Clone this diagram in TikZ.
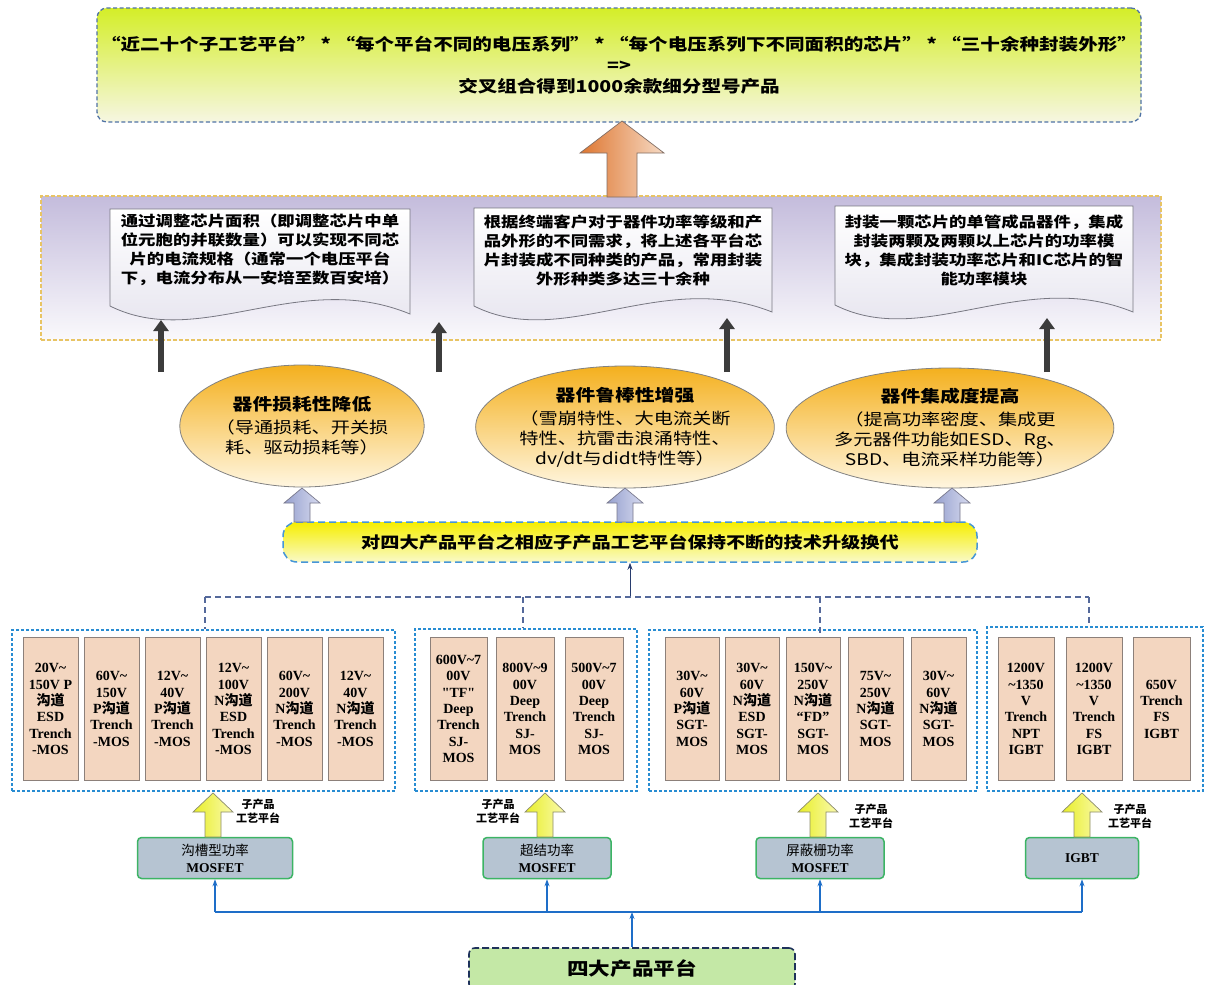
\documentclass[tikz,border=0pt]{standalone}
\usepackage{fontspec}
\setmainfont{Liberation Serif}
\newfontfamily\plainserif{Liberation Serif}
\newfontfamily\cjk{Noto Sans CJK SC}
\newfontfamily\cjkw{Noto Sans CJK SC}[FakeStretch=1.2]
\usetikzlibrary{shapes.geometric,arrows.meta}
\definecolor{topA}{RGB}{212,238,40}
\definecolor{topB}{RGB}{246,246,226}
\definecolor{topline}{RGB}{80,115,165}
\definecolor{bandA}{RGB}{196,188,220}
\definecolor{bandB}{RGB}{250,249,252}
\definecolor{bandline}{RGB}{232,196,100}
\definecolor{docB}{RGB}{226,224,236}
\definecolor{docline}{RGB}{120,120,130}
\definecolor{ellA}{RGB}{244,176,30}
\definecolor{ellB}{RGB}{255,246,224}
\definecolor{barA}{RGB}{246,238,0}
\definecolor{barB}{RGB}{250,250,200}
\definecolor{barline}{RGB}{70,150,215}
\definecolor{lavA}{RGB}{150,160,205}
\definecolor{lavB}{RGB}{214,218,240}
\definecolor{orA}{RGB}{222,118,48}
\definecolor{orB}{RGB}{246,218,196}
\definecolor{treec}{RGB}{85,105,155}
\definecolor{grpc}{RGB}{40,140,210}
\definecolor{tanf}{RGB}{243,214,192}
\definecolor{tanline}{RGB}{140,128,122}
\definecolor{yelA}{RGB}{232,238,40}
\definecolor{yelB}{RGB}{250,250,175}
\definecolor{platf}{RGB}{182,196,210}
\definecolor{platl}{RGB}{60,180,100}
\definecolor{bluec}{RGB}{30,110,200}
\definecolor{basef}{RGB}{196,232,166}
\definecolor{basel}{RGB}{30,50,90}
\definecolor{darkar}{RGB}{60,60,60}
\definecolor{navyc}{RGB}{40,60,110}
\newcommand\blockup[7]{\path[#1] (#2,#3) -- ({#2+#6},#4) -- ({#2+#7},#4) -- ({#2+#7},#5) -- ({#2-#7},#5) -- ({#2-#7},#4) -- ({#2-#6},#4) -- cycle;}
\newcommand\docpath[6]{\path[#1] (#2,#4) -- (#3,#4) -- (#3,#6) .. controls ({#2+0.63*(#3-#2)},{#5-38}) and ({#2+0.3*(#3-#2)},{#5+45}) .. (#2,#5) -- cycle;}
\newcommand\prodbox[4]{\node[prod,minimum width=#2pt] (#1) at (#3,709) {#4};}
\begin{document}
\begin{tikzpicture}[x=1pt,y=-1pt,
  topbox/.style={draw=topline, dash pattern=on 4pt off 2.5pt, line width=1.3pt, rounded corners=10pt, top color=topA, bottom color=topB, minimum width=1044pt, minimum height=114pt, align=center, font=\cjkw\bfseries\fontsize{16.3}{21}\selectfont},
  bandbox/.style={draw=bandline, dash pattern=on 4pt off 2pt, line width=1.2pt, top color=bandA, bottom color=bandB, minimum width=1120pt, minimum height=144pt},
  docbox/.style={draw=docline, line width=0.8pt, top color=white, bottom color=docB},
  doctext/.style={align=center, inner sep=0pt, font=\cjkw\bfseries\fontsize{14.5}{19}\selectfont},
  blk/.style={draw=darkar, line width=6pt, -{Triangle[width=15pt,length=11pt]}},
  ell/.style={ellipse, draw={rgb,255:red,130;green,130;blue,130}, line width=0.8pt, top color=ellA, bottom color=ellB, inner sep=0pt, align=center, font=\cjkw\fontsize{16}{20}\selectfont},
  lavarrow/.style={draw={rgb,255:red,120;green,120;blue,140}, line width=0.7pt, left color=lavA, right color=lavB},
  orangearrow/.style={draw={rgb,255:red,130;green,110;blue,100}, line width=0.7pt, left color=orA, right color=orB},
  yelarrow/.style={draw={rgb,255:red,140;green,140;blue,110}, line width=0.7pt, left color=yelA, right color=yelB},
  barbox/.style={draw=barline, dash pattern=on 7pt off 4pt, line width=1.5pt, rounded corners=14pt, top color=barA, bottom color=barB, minimum width=694pt, minimum height=40pt, font=\cjkw\bfseries\fontsize{16}{20}\selectfont},
  tree/.style={draw=treec, line width=1.3pt, dash pattern=on 6pt off 4pt},
  grp/.style={draw=grpc, line width=1.3pt, dash pattern=on 3pt off 2pt},
  prod/.style={draw=tanline, fill=tanf, line width=1pt, minimum height=143pt, inner sep=0pt, align=center, font=\bfseries\fontsize{14}{16.3}\selectfont},
  sublab/.style={align=center, inner sep=0pt, font=\cjk\bfseries\fontsize{11}{14}\selectfont},
  plat/.style={draw=platl, line width=1.5pt, fill=platf, rounded corners=4pt, minimum height=41pt, align=center, inner sep=0pt, font=\bfseries\fontsize{13.5}{17}\selectfont},
  bl/.style={draw=bluec, line width=1.3pt},
  blar/.style={bl, -{Stealth[length=7pt,width=5pt]}},
  basebox/.style={draw=basel, dash pattern=on 7pt off 3pt, line width=1.6pt, fill=basef, rounded corners=6pt, minimum width=326pt, minimum height=42pt, font=\cjkw\bfseries\fontsize{18}{22}\selectfont}
]
\useasboundingbox (0,0) rectangle (1208,985);
\fill[white] (0,0) rectangle (1208,985);

% top result box
\node[topbox] (top) at (619,65) {“近二十个子工艺平台” * “每个平台不同的电压系列” * “每个电压系列下不同面积的芯片” * “三十余种封装外形”\\=>\\交叉组合得到1000余款细分型号产品};

% purple band
\node[bandbox] (band) at (601,268) {};
\blockup{orangearrow}{622}{121}{153}{197}{42}{15}

% document shapes
\docpath{docbox}{110}{410}{209}{306}{314}
\docpath{docbox}{474}{772}{208}{306}{312}
\docpath{docbox}{835}{1133}{206}{305}{312}
\node[doctext] (d1) at (260,250) {通过调整芯片面积（即调整芯片中单\\位元胞的并联数量）可以实现不同芯\\片的电流规格（通常一个电压平台\\下，电流分布从一安培至数百安培）};
\node[doctext] (d2) at (623,250) {根据终端客户对于器件功率等级和产\\品外形的不同需求，将上述各平台芯\\片封装成不同种类的产品，常用封装\\外形种类多达三十余种};
\node[doctext] (d3) at (984,250) {封装一颗芯片的单管成品器件，集成\\封装两颗及两颗以上芯片的功率模\\块，集成封装功率芯片和IC芯片的智\\能功率模块};

% black arrows
\coordinate (k1) at (161,372); \coordinate (k1t) at (161,320);
\coordinate (k2) at (439,372); \coordinate (k2t) at (439,322);
\coordinate (k3) at (727,372); \coordinate (k3t) at (727,318);
\coordinate (k4) at (1047,372); \coordinate (k4t) at (1047,318);
\draw[blk] (k1) -- (k1t);
\draw[blk] (k2) -- (k2t);
\draw[blk] (k3) -- (k3t);
\draw[blk] (k4) -- (k4t);

% ellipses
\node[ell, minimum width=242pt, minimum height=122pt] (e1) at (302,426) {{\bfseries\fontsize{16.5}{20}\selectfont 器件损耗性降低}\\[3pt]（导通损耗、开关损\\耗、驱动损耗等）};
\node[ell, minimum width=262pt, minimum height=122pt] (e2) at (625,427) {{\bfseries\fontsize{16.5}{20}\selectfont 器件鲁棒性增强}\\[3pt]（雪崩特性、大电流关断\\特性、抗雷击浪涌特性、\\dv/dt与didt特性等）};
\node[ell, minimum width=272pt, minimum height=120pt] (e3) at (950,428) {{\bfseries\fontsize{16.5}{20}\selectfont 器件集成度提高}\\[3pt]（提高功率密度、集成更\\多元器件功能如ESD、Rg、\\SBD、电流采样功能等）};

% upgrade bar
\node[barbox] (bar) at (630,542) {对四大产品平台之相应子产品工艺平台保持不断的技术升级换代};
\blockup{lavarrow}{302}{488}{503}{522}{18}{8}
\blockup{lavarrow}{625}{488}{503}{522}{18}{8}
\blockup{lavarrow}{952}{488}{503}{522}{18}{8}

% dashed tree
\coordinate (t1) at (205,597);
\coordinate (t2) at (523,597);
\coordinate (thub) at (630,597);
\coordinate (t3) at (820,597);
\coordinate (t4) at (1089,597);
\draw[navyc, line width=1pt, -{Stealth[length=7pt,width=5pt]}] (thub) -- (bar.south);

% groups
\node[grp, minimum width=383pt, minimum height=161pt] (g1) at (203.5,710.5) {};
\node[grp, minimum width=222pt, minimum height=162pt] (g2) at (526,710) {};
\node[grp, minimum width=328pt, minimum height=161pt] (g3) at (813,710.5) {};
\node[grp, minimum width=216pt, minimum height=164pt] (g4) at (1095,709) {};

\prodbox{a1}{55}{50.5}{20V\textasciitilde\\150V P\\{\cjk 沟道}\\ESD\\Trench\\-MOS}
\prodbox{a2}{55}{111.5}{60V\textasciitilde\\150V\\P{\cjk 沟道}\\Trench\\-MOS}
\prodbox{a3}{55}{172.5}{12V\textasciitilde\\40V\\P{\cjk 沟道}\\Trench\\-MOS}
\prodbox{a4}{55}{233.5}{12V\textasciitilde\\100V\\N{\cjk 沟道}\\ESD\\Trench\\-MOS}
\prodbox{a5}{55}{294.5}{60V\textasciitilde\\200V\\N{\cjk 沟道}\\Trench\\-MOS}
\prodbox{a6}{55}{355.5}{12V\textasciitilde\\40V\\N{\cjk 沟道}\\Trench\\-MOS}

\prodbox{b1}{57}{458.5}{600V\textasciitilde7\\00V\\{\plainserif\bfseries "TF"}\\Deep\\Trench\\SJ-\\MOS}
\prodbox{b2}{58}{525}{800V\textasciitilde9\\00V\\Deep\\Trench\\SJ-\\MOS}
\prodbox{b3}{58}{594}{500V\textasciitilde7\\00V\\Deep\\Trench\\SJ-\\MOS}

\prodbox{c1}{54}{692}{30V\textasciitilde\\60V\\P{\cjk 沟道}\\SGT-\\MOS}
\prodbox{c2}{54}{752}{30V\textasciitilde\\60V\\N{\cjk 沟道}\\ESD\\SGT-\\MOS}
\prodbox{c3}{54}{813}{150V\textasciitilde\\250V\\N{\cjk 沟道}\\“FD”\\SGT-\\MOS}
\prodbox{c4}{55}{875.5}{75V\textasciitilde\\250V\\N{\cjk 沟道}\\SGT-\\MOS}
\prodbox{c5}{55}{938.5}{30V\textasciitilde\\60V\\N{\cjk 沟道}\\SGT-\\MOS}

\prodbox{f1}{56}{1026}{1200V\\\textasciitilde1350\\V\\Trench\\NPT\\IGBT}
\prodbox{f2}{56}{1094}{1200V\\\textasciitilde1350\\V\\Trench\\FS\\IGBT}
\prodbox{f3}{57}{1161.5}{650V\\Trench\\FS\\IGBT}

\draw[tree] (t1) -- (t4);
\draw[tree] (t1) -- (t1 |- g1.north);
\draw[tree] (t2) -- (t2 |- g2.north);
\draw[tree] (t3) -- (t3 |- c3.north);
\draw[tree] (t4) -- (t4 |- g4.north);

% platforms
\node[plat, minimum width=155pt] (p1) at (215,858) {{\cjk\mdseries 沟槽型功率}\\MOSFET};
\node[plat, minimum width=128pt] (p2) at (547,858) {{\cjk\mdseries 超结功率}\\MOSFET};
\node[plat, minimum width=128pt] (p3) at (820,858) {{\cjk\mdseries 屏蔽栅功率}\\MOSFET};
\node[plat, minimum width=113pt] (p4) at (1082,858) {IGBT};

\blockup{yelarrow}{213}{793}{812}{837}{20}{8}
\blockup{yelarrow}{545}{793}{812}{837}{20}{8}
\blockup{yelarrow}{818}{793}{812}{837}{20}{8}
\blockup{yelarrow}{1082}{793}{812}{837}{20}{8}
\node[sublab] (l1) at (258,811) {子产品\\工艺平台};
\node[sublab] (l2) at (498,811) {子产品\\工艺平台};
\node[sublab] (l3) at (871,816) {子产品\\工艺平台};
\node[sublab] (l4) at (1130,816) {子产品\\工艺平台};

% base
\node[basebox] (base) at (632,969) {四大产品平台};
\coordinate (hub) at (632,912);
\draw[bl] (p1.south |- hub) -- (p4.south |- hub);
\draw[blar] (p1.south |- hub) -- (p1.south);
\draw[blar] (p2.south |- hub) -- (p2.south);
\draw[blar] (p3.south |- hub) -- (p3.south);
\draw[blar] (p4.south |- hub) -- (p4.south);
\draw[blar] (base.north) -- (hub);
\end{tikzpicture}
\end{document}
